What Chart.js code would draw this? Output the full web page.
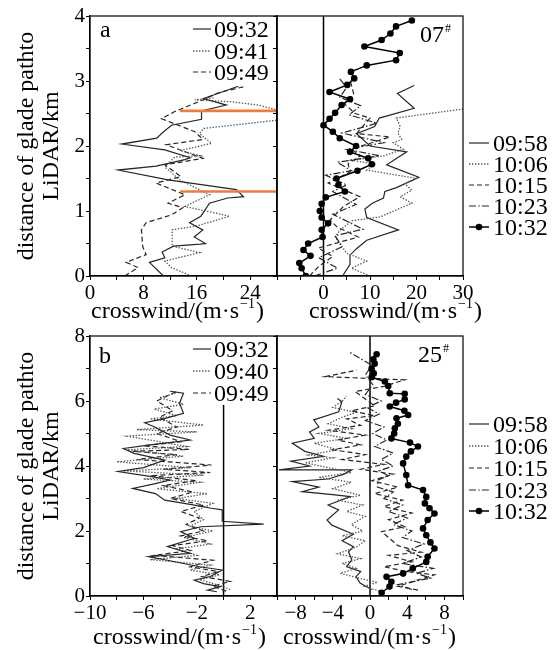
<!DOCTYPE html>
<html><head><meta charset="utf-8">
<script src="https://cdn.jsdelivr.net/npm/chart.js@4.4.0/dist/chart.umd.min.js"></script>
<style>
html,body{margin:0;padding:0;background:#fff;}
#wrap{position:relative;width:557px;height:650px;overflow:hidden;background:#fff;}
canvas{position:absolute;}
</style></head><body>
<div id="wrap">
<canvas id="a1" width="290" height="335" style="left:0;top:0"></canvas>
<canvas id="a2" width="287" height="335" style="left:270px;top:0"></canvas>
<canvas id="b1" width="290" height="330" style="left:0;top:320px"></canvas>
<canvas id="b2" width="287" height="330" style="left:270px;top:320px"></canvas>
</div>
<script>
// ---------- DATA: [crosswind (m/s), distance (km)] ----------
const A_LEFT_TIMES  = ['09:32','09:41','09:49'];
const A_RIGHT_TIMES = ['09:58','10:06','10:15','10:23','10:32'];
const B_LEFT_TIMES  = ['09:32','09:40','09:49'];
const B_RIGHT_TIMES = ['09:58','10:06','10:15','10:23','10:32'];

const A1_0932 = [[11,0],[8.9,0.21],[11.2,0.28],[10.8,0.37],[12.5,0.46],[16.5,0.49],[17.3,0.5],[15.6,0.6],[16.9,0.71],[14.9,0.82],[16.6,0.92],[17.9,1.12],[20.6,1.2],[23,1.22],[21.9,1.33],[11.7,1.48],[4.2,1.63],[9.9,1.69],[14.2,1.79],[15,1.82],[11.2,1.94],[4.75,2.03],[10,2.12],[10.8,2.2],[12.2,2.32],[16.7,2.41],[16.7,2.54],[20.4,2.63],[17,2.73],[18.4,2.78],[22.2,2.92]];
const A1_0941 = [[15.2,0],[12.2,0.13],[11.2,0.23],[16.4,0.36],[12.3,0.46],[12.3,0.71],[16,0.77],[20.9,0.92],[14.2,1.07],[17.9,1.25],[13.4,1.48],[11.2,1.68],[12.7,1.83],[16.5,1.85],[13.5,1.93],[18.2,2.04],[16.4,2.19],[17,2.27],[30,2.42],[30,2.5],[25.2,2.63],[21.2,2.68],[15.7,2.71],[18.5,2.74]];
const A1_0949 = [[5.2,0],[7.2,0.13],[5.4,0.21],[8.4,0.33],[7.9,0.45],[7.7,0.71],[8.4,0.82],[12.2,0.94],[13.9,1.05],[11.7,1.12],[14.2,1.25],[9.9,1.43],[13.6,1.53],[11.2,1.71],[16.9,1.81],[11.4,2.02],[16.9,2.1],[15.7,2.22],[10.7,2.42],[12.7,2.53],[16.7,2.7],[19.2,2.82],[23.4,2.92]];
const A1_MARK_LINES = [[[13.5,1.3],[28,1.3]],[[13.5,2.54],[28,2.54]]];

const A2_0958 = [[4.1,0],[5.7,0.18],[5.7,0.32],[7.1,0.42],[9.3,0.55],[16.1,0.71],[9.3,0.9],[8.9,1.03],[10.5,1.12],[12.9,1.2],[13.2,1.3],[15.7,1.36],[20.5,1.52],[15.4,1.66],[13.6,1.71],[17.9,1.91],[10,2.0],[7.1,2.19],[11,2.3],[12,2.43],[19.5,2.58],[15.9,2.81],[19.5,2.93]];
const A2_1006 = [[10,0],[6,0.12],[9.3,0.23],[5,0.35],[2.5,0.6],[3.5,0.7],[6.1,0.85],[12.2,0.91],[19,1.12],[16.5,1.22],[19,1.32],[17.5,1.42],[20,1.5],[9.3,1.63],[11,1.72],[6,1.78],[13,1.85],[17.2,1.95],[15,2.05],[16.8,2.1],[16,2.2],[16.5,2.3],[15.7,2.43],[30,2.57]];
const A2_1015 = [[-3,0],[-1,0.15],[2,0.3],[-1.1,0.43],[7.5,0.6],[3,0.75],[1.4,0.86],[4.3,1.07],[7.8,1.22],[1,1.43],[5.7,1.6],[5.3,1.73],[8,1.85],[6,1.95],[14.3,2.14],[7.1,2.19],[10,2.43],[6.8,2.5],[4.5,2.65],[6.5,2.8],[5.7,3.02]];
const A2_1023 = [[-2,0],[3,0.12],[-1,0.28],[4,0.45],[2.5,0.62],[8.5,0.72],[2,0.95],[7,1.1],[2,1.3],[5,1.4],[0.5,1.55],[6,1.62],[3,1.75],[12,1.85],[5,1.95],[13,2.05],[4,2.2],[11.5,2.35],[5.5,2.48],[8,2.62],[3.5,2.75],[5,2.9],[3.3,3.05]];
const A2_1032 = [[-3.8,0],[-4.7,0.12],[-5.2,0.2],[-2.8,0.31],[-4.3,0.4],[-3.3,0.5],[-0.2,0.6],[-0.4,0.71],[1,0.81],[-0.4,0.9],[-0.8,1.0],[-0.4,1.11],[0.5,1.21],[4.6,1.3],[3.2,1.4],[2.8,1.5],[7.3,1.62],[10.4,1.72],[9.6,1.81],[5.7,1.91],[7,2.0],[3.5,2.12],[2,2.22],[0,2.32],[1.3,2.42],[2.5,2.51],[3.9,2.63],[5.7,2.72],[1.3,2.83],[5.1,2.94],[6.6,3.04],[5.9,3.14],[9.3,3.24],[15.6,3.32],[16.4,3.43],[8.8,3.53],[12.5,3.63],[14.4,3.73],[15.6,3.84],[19,3.93]];

const B1_0932 = [[-0.5,0.13],[-1.2,0.18],[-0.25,0.29],[-1.5,0.38],[-2.2,0.49],[-1.0,0.6],[-0.1,0.8],[-1.8,0.9],[-4.2,1.1],[-5.6,1.21],[-2.5,1.31],[-4.2,1.52],[-2.2,1.77],[-3.2,1.98],[-1.7,2.13],[3.0,2.21],[-0.1,2.3],[-0.1,2.65],[-0.9,2.7],[-2.5,2.82],[-4.4,2.95],[-5.1,3.15],[-6.8,3.31],[-5.2,3.45],[-4.0,3.57],[-5.5,3.68],[-7.9,3.83],[-6.0,3.95],[-4.4,4.18],[-6.7,4.39],[-7.5,4.54],[-5.5,4.65],[-2.5,4.8],[-4.0,4.95],[-5.2,5.21],[-5.9,5.33],[-4.5,5.45],[-3.0,5.62],[-3.3,5.93],[-3.0,6.24],[-4.0,6.3]];
const B1_0940 = [[0.5,0.2],[-0.5,0.35],[-1.8,0.5],[-0.3,0.65],[-2.5,0.8],[-1,0.95],[-5.5,1.12],[-2,1.25],[-3.5,1.45],[-1,1.6],[-3,1.8],[-0.8,2.0],[-2.5,2.15],[-1.5,2.35],[-2.2,2.6],[-0.8,2.85],[-3.5,3.0],[-1.2,3.15],[-5,3.3],[-1.8,3.5],[-6,3.6],[-1.5,3.72],[-7.5,3.85],[-2.5,3.95],[-8,4.13],[-3,4.3],[-7.2,4.5],[-2.8,4.6],[-7.2,4.92],[-2,5.05],[-6.5,5.12],[-1.5,5.26],[-5.5,5.45],[-3.5,5.55],[-5.2,5.75],[-3.0,5.9],[-4.8,6.1],[-3.5,6.25]];
const B1_0949 = [[0.2,0.15],[-0.8,0.3],[0.5,0.45],[-1.6,0.6],[-0.4,0.75],[-2.5,0.9],[-0.8,1.1],[-5.2,1.25],[-2.5,1.4],[-3.8,1.55],[-1.2,1.7],[-3.2,1.85],[-1.5,2.0],[-2.8,2.2],[-1.8,2.4],[-3.2,2.6],[-1.5,2.8],[-4,3.0],[-2.3,3.2],[-4.5,3.4],[-2,3.55],[-5.5,3.7],[-1,3.8],[-4.5,3.9],[-0.9,4.03],[-6.5,4.2],[-3.5,4.35],[-6.8,4.45],[-2.6,4.51],[-6,4.62],[-3.2,4.75],[-5,5.0],[-3.5,5.2],[-4.8,5.5],[-3.8,5.7],[-5,6.0],[-4,6.2],[-3.5,6.3]];
const B1_ZERO = [[0,0],[0,5.88]];

const B2_0958 = [[0.18,0.2],[-1.07,0.4],[-1.5,0.6],[-1.0,0.75],[-2.5,0.9],[-1.96,1.11],[-2.31,1.36],[-1.78,1.52],[-3.0,1.7],[-1.8,1.9],[-4.1,2.18],[-4.62,2.34],[-3.38,2.65],[-4.5,2.8],[-2.13,3.06],[-4.0,3.12],[-7.29,3.21],[-5.5,3.35],[-8.36,3.52],[-4.5,3.6],[-2.8,3.75],[-1.96,3.88],[-9.78,3.88],[-6.5,4.0],[-8.5,4.15],[-5.0,4.3],[-7.0,4.45],[-8.35,4.7],[-6.0,4.85],[-6.5,5.05],[-5.5,5.2],[-6.04,5.42],[-3.37,5.67],[-3.02,5.98],[-3.5,6.08]];
const B2_1006 = [[1.0,0.15],[-0.6,0.3],[0.8,0.42],[-1.2,0.55],[-3.2,0.7],[-1.5,0.85],[-3.0,1.0],[-1.0,1.15],[-3.5,1.3],[-1.5,1.5],[-0.5,1.7],[-3.0,1.85],[-0.8,2.0],[-2.0,2.2],[-0.5,2.45],[-2.5,2.6],[-0.8,2.8],[-3.5,2.95],[-1.0,3.1],[-4.0,3.3],[-2.0,3.5],[-5.5,3.65],[-2.0,3.8],[-4.5,3.95],[-7.0,4.1],[-4.0,4.25],[-6.57,4.34],[-3.5,4.5],[-6.0,4.7],[-2.5,4.85],[-5.5,5.0],[-2.0,5.15],[-4.5,5.3],[-3.0,5.5],[-1.5,5.65],[-4.0,5.8],[-3.0,6.0],[-2.5,6.15]];
const B2_1015 = [[5.16,0.18],[3.0,0.3],[6.93,0.65],[4.0,0.75],[1.5,0.9],[4.5,1.05],[2.0,1.25],[5.5,1.35],[3.0,1.55],[1.25,1.98],[3.73,2.13],[2.0,2.35],[4.5,2.55],[1.5,2.75],[3.5,2.95],[0.5,3.15],[3.0,3.35],[0.2,3.55],[2.5,3.75],[-1.0,3.9],[1.5,4.05],[-3.0,4.2],[-0.5,4.35],[-4.0,4.5],[-1.0,4.65],[-3.5,4.8],[-0.5,4.95],[-4.5,5.1],[-1.0,5.25],[-2.5,5.45],[0.5,5.55],[-2.0,5.7],[0.5,5.85],[-1.6,6.29],[1.5,6.45],[3.73,6.65],[-4.8,6.75],[-1.42,6.95]];
const B2_1023 = [[4.5,0.2],[3.0,0.35],[6.5,0.55],[5.0,0.7],[6.8,0.85],[3.5,1.0],[5.5,1.2],[4.0,1.4],[5.8,1.6],[3.5,1.8],[4.5,2.0],[2.5,2.2],[4.0,2.4],[2.0,2.6],[3.5,2.8],[1.5,3.0],[2.5,3.2],[0.8,3.35],[0.89,3.57],[2.0,3.7],[1.0,3.85],[2.5,4.0],[1.2,4.2],[2.5,4.4],[0.5,4.6],[1.8,4.8],[0.3,5.0],[1.5,5.2],[-0.5,5.4],[1.0,5.6],[-0.3,5.8],[1.2,6.0],[-0.5,6.2],[0.3,6.5],[-0.5,6.8],[0.2,7.1],[-2.31,7.52]];
const B2_1032 = [[1.25,0.1],[2.1,0.29],[2.3,0.44],[1.78,0.59],[3.56,0.69],[4.6,0.85],[6.05,1.05],[6.2,1.21],[6.93,1.46],[6.5,1.65],[6.05,1.87],[5.7,2.08],[6.2,2.34],[6.93,2.54],[6.4,2.7],[5.9,2.85],[6.05,3.05],[5.7,3.26],[4.1,3.41],[3.9,3.72],[3.56,4.08],[3.9,4.29],[4.4,4.45],[5.16,4.6],[4.3,4.72],[2.3,4.85],[2.6,5.0],[2.67,5.16],[3.0,5.3],[2.85,5.47],[4.1,5.57],[3.7,5.7],[2.13,5.83],[2.8,5.95],[3.73,6.05],[3.73,6.22],[2.13,6.24],[1.96,6.46],[1.6,6.6],[0.18,6.73],[0.4,6.85],[0.18,7.0],[0.5,7.15],[0.36,7.28],[0.71,7.44]];

const ZERO_A = [[0,0],[0,4]];
const ZERO_B = [[0,0],[0,8]];

// tick labels
const A1_X_LABELS = [0,8,16,24];
const A2_X_LABELS = [0,10,20,30];
const A_Y_LABELS  = [0,1,2,3,4];
const B1_X_LABELS = [-10,-6,-2,2];
const B2_X_LABELS = [-8,-4,0,4,8];
const B_Y_LABELS  = [0,2,4,6,8];
const Y_TITLE = ['distance of glade pathto','LiDAR/km'];
const X_TITLE = ['crosswind/(m\u00b7s','\u22121',')'];
const PANEL_TAGS = ['a','07','b','25'];

// ---------- STYLES ----------
const SERIF = '"Liberation Serif","Times New Roman",serif';
const STY = {
  solid:   {c:'#262626', w:1.2, dash:[]},
  dot:     {c:'#555555', w:1.3, dash:[1.4,1.6]},
  dash:    {c:'#262626', w:1.2, dash:[5,3]},
  dashdot: {c:'#262626', w:1.2, dash:[7,2.2,1.5,2.2]},
  marker:  {c:'#000000', w:1.5, dash:[], r:3.3},
  zero:    {c:'#000000', w:1.5, dash:[]},
  orange:  {c:'#ee7c3e', w:2.6, dash:[]}
};
const fmt = v => (v < 0 ? '\u2212' + Math.abs(v) : String(v));

const deco = {
  id:'deco',
  afterDraw(chart, args, o){
    const ctx = chart.ctx, ca = chart.chartArea, ox = o.ox, oy = o.oy;
    ctx.save();
    ctx.setLineDash([]); ctx.strokeStyle='#000'; ctx.lineWidth=1.2;
    ctx.strokeRect(ca.left, ca.top, ca.right-ca.left, ca.bottom-ca.top);
    ctx.fillStyle='#000';
    // y title
    if (o.yTitle){
      ctx.font = '24px ' + SERIF; ctx.textAlign='center'; ctx.textBaseline='alphabetic';
      Y_TITLE.forEach((t,i)=>{
        ctx.save(); ctx.translate(o.yTitle.xs[i]-ox, o.yTitle.cy-oy); ctx.rotate(-Math.PI/2);
        ctx.fillText(t,0,0); ctx.restore();
      });
    }
    // x title with superscript
    ctx.textAlign='left'; ctx.textBaseline='alphabetic';
    let x = o.xTitle.x-ox; const y = o.xTitle.y-oy;
    ctx.font = '24px ' + SERIF; ctx.fillText(X_TITLE[0], x, y); x += ctx.measureText(X_TITLE[0]).width + 1;
    ctx.font = '14px ' + SERIF; ctx.fillText(X_TITLE[1], x, y-10); x += ctx.measureText(X_TITLE[1]).width + 1;
    ctx.font = '24px ' + SERIF; ctx.fillText(X_TITLE[2], x, y);
    // panel tag
    ctx.font = '24px ' + SERIF; ctx.fillText(o.tag.text, o.tag.x-ox, o.tag.y-oy);
    if (o.tag.sup){
      const w = ctx.measureText(o.tag.text).width;
      ctx.font = '12px ' + SERIF; ctx.fillText('#', o.tag.x-ox+w+1, o.tag.y-oy-10);
    }
    // legend
    const L = o.legend;
    L.labels.forEach((lab,i)=>{
      const st = STY[L.styles[i]]; const ly = L.ys[i]-oy;
      ctx.strokeStyle=st.c; ctx.lineWidth=st.w; ctx.setLineDash(st.dash);
      ctx.beginPath(); ctx.moveTo(L.x0-ox, ly); ctx.lineTo(L.x1-ox, ly); ctx.stroke();
      ctx.setLineDash([]);
      if (st.r){ ctx.fillStyle=st.c; ctx.beginPath(); ctx.arc((L.x0+L.x1)/2-ox, ly, st.r, 0, 2*Math.PI); ctx.fill(); }
      ctx.fillStyle='#000'; ctx.font='24px ' + SERIF; ctx.textAlign='left'; ctx.textBaseline='alphabetic';
      ctx.fillText(lab, L.tx-ox, ly+8);
    });
    ctx.restore();
  }
};

function mk(id, p){
  const ds = p.series.map(s=>{
    const st = STY[s.style];
    return {
      data: s.data.map(d=>({x:d[0], y:d[1]})),
      showLine:true, tension:0,
      borderColor:st.c, backgroundColor:st.c, borderWidth:st.w, borderDash:st.dash,
      pointRadius: st.r || 0, pointHoverRadius:0, pointBorderWidth:0, pointBackgroundColor:st.c
    };
  }).reverse();
  const tickFont = {family:'Liberation Serif', size:21};
  new Chart(document.getElementById(id), {
    type:'scatter',
    data:{datasets:ds},
    options:{
      responsive:false, animation:false, events:[],
      layout:{padding:p.pad},
      plugins:{legend:{display:false}, tooltip:{enabled:false}, deco:p.deco},
      scales:{
        x:{type:'linear', position:'bottom', min:p.x.min, max:p.x.max,
           afterFit(s){ s.height = p.xh; },
           ticks:{stepSize:p.x.step, autoSkip:false, maxRotation:0, minRotation:0, padding:1, color:'#000', font:tickFont,
                  callback:v=>p.x.labels.includes(v)?fmt(v):''},
           grid:{drawOnChartArea:false, drawTicks:true, tickLength:4, color:'#000', lineWidth:1},
           border:{display:true, color:'#000', width:1.2}},
        y:{type:'linear', position:'left', min:p.y.min, max:p.y.max,
           afterFit(s){ s.width = p.yw; },
           ticks:{stepSize:p.y.step, autoSkip:false, padding:1, color:'#000', font:tickFont,
                  callback:v=>p.y.labels.includes(v)?fmt(v):''},
           grid:{drawOnChartArea:false, drawTicks:true, tickLength:4, color:'#000', lineWidth:1},
           border:{display:true, color:'#000', width:1.2}}
      }
    },
    plugins:[deco]
  });
}

// ---------- PANELS ----------
mk('a1', {
  series:[{data:A1_0949,style:'dash'},{data:A1_0941,style:'dot'},{data:A1_0932,style:'solid'},
          {data:A1_MARK_LINES[0],style:'orange'},{data:A1_MARK_LINES[1],style:'orange'}],
  x:{min:0,max:28,step:4,labels:A1_X_LABELS}, y:{min:0,max:4,step:0.5,labels:A_Y_LABELS},
  yw:90, xh:59, pad:{top:16,right:13,left:0,bottom:0},
  deco:{ox:0,oy:0, yTitle:{xs:[33,58], cy:146}, xTitle:{x:91,y:318},
        tag:{text:PANEL_TAGS[0],x:100,y:37},
        legend:{labels:A_LEFT_TIMES, styles:['solid','dot','dash'], x0:193, x1:211, tx:214, ys:[29,51,72]}}
});
mk('a2', {
  series:[{data:ZERO_A,style:'zero'},{data:A2_0958,style:'solid'},{data:A2_1006,style:'dot'},{data:A2_1015,style:'dash'},
          {data:A2_1023,style:'dashdot'},{data:A2_1032,style:'marker'}],
  x:{min:-10,max:30,step:5,labels:A2_X_LABELS}, y:{min:0,max:4,step:0.5,labels:[]},
  yw:7, xh:59, pad:{top:16,right:94,left:0,bottom:0},
  deco:{ox:270,oy:0, xTitle:{x:309,y:318},
        tag:{text:PANEL_TAGS[1],sup:true,x:420,y:42},
        legend:{labels:A_RIGHT_TIMES, styles:['solid','dot','dash','dashdot','marker'], x0:469, x1:489, tx:493, ys:[143,164,185,206,227]}}
});
mk('b1', {
  series:[{data:B1_ZERO,style:'zero'},{data:B1_0949,style:'dash'},{data:B1_0940,style:'dot'},{data:B1_0932,style:'solid'}],
  x:{min:-10,max:4,step:2,labels:B1_X_LABELS}, y:{min:0,max:8,step:1,labels:B_Y_LABELS},
  yw:90, xh:54, pad:{top:16,right:13,left:0,bottom:0},
  deco:{ox:0,oy:320, yTitle:{xs:[33,58], cy:466}, xTitle:{x:93,y:644},
        tag:{text:PANEL_TAGS[2],x:99,y:363},
        legend:{labels:B_LEFT_TIMES, styles:['solid','dot','dash'], x0:193, x1:211, tx:214, ys:[349,371,393]}}
});
mk('b2', {
  series:[{data:ZERO_B,style:'zero'},{data:B2_0958,style:'solid'},{data:B2_1006,style:'dot'},{data:B2_1015,style:'dash'},
          {data:B2_1023,style:'dashdot'},{data:B2_1032,style:'marker'}],
  x:{min:-10,max:10,step:2,labels:B2_X_LABELS}, y:{min:0,max:8,step:1,labels:[]},
  yw:7, xh:54, pad:{top:16,right:94,left:0,bottom:0},
  deco:{ox:270,oy:320, xTitle:{x:283,y:644},
        tag:{text:PANEL_TAGS[3],sup:true,x:418,y:362},
        legend:{labels:B_RIGHT_TIMES, styles:['solid','dot','dash','dashdot','marker'], x0:469, x1:489, tx:493, ys:[424,446,468,490,511]}}
});
</script>
</body></html>
